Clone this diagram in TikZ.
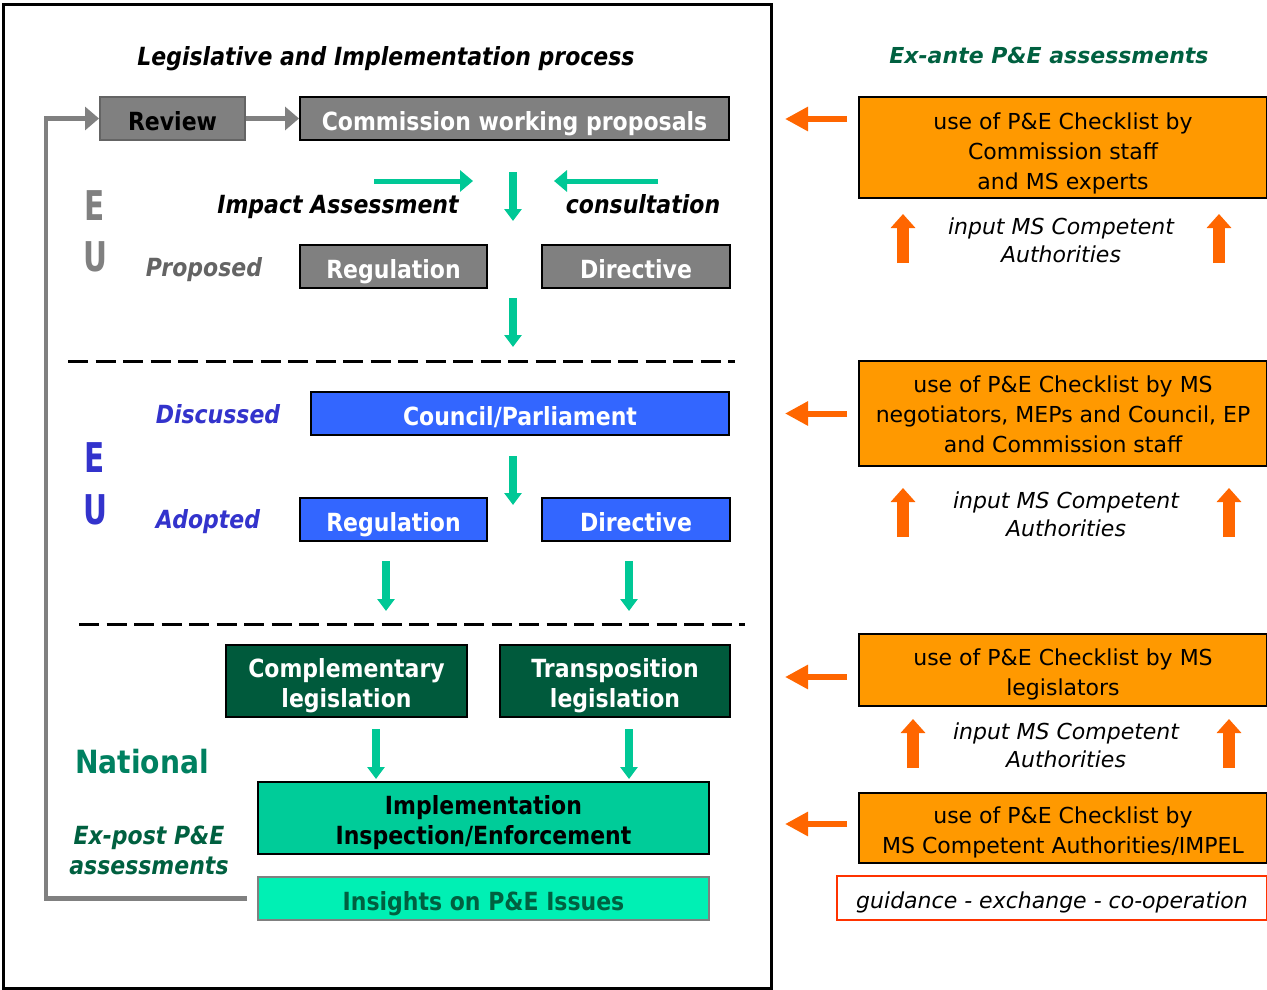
\documentclass[tikz,border=0pt]{standalone}
\usepackage{fontspec}
\setmainfont{DejaVu Sans}
\newfontfamily\lf[FakeStretch=0.88]{DejaVu Sans}
\newfontfamily\nf[FakeStretch=0.72]{DejaVu Sans}
\usetikzlibrary{arrows.meta}
\definecolor{gfill}{RGB}{128,128,128}
\definecolor{gdark}{RGB}{100,100,100}
\definecolor{tgreen}{RGB}{0,200,150}
\definecolor{bfill}{RGB}{51,102,255}
\definecolor{blab}{RGB}{51,51,204}
\definecolor{dgreen}{RGB}{0,90,60}
\definecolor{ngreen}{RGB}{0,128,96}
\definecolor{tgtext}{RGB}{0,96,64}
\definecolor{implfill}{RGB}{0,204,153}
\definecolor{insfill}{RGB}{0,240,180}
\definecolor{ofill}{RGB}{255,153,0}
\definecolor{oarr}{RGB}{255,102,0}
\definecolor{rborder}{RGB}{255,51,0}
\newcommand\ltop{\rule{0pt}{28pt}}
\newcommand\lbot{\rule[-5pt]{0pt}{0pt}}
\newcommand\rs[1]{\rule[-6pt]{0pt}{#1}}
\newcommand\estr{\rule{0pt}{18.3pt}}
\tikzset{
  boxbase/.style={draw=black, line width=2pt, inner sep=0pt, align=center, font=\lf\fontsize{25}{30}\selectfont\bfseries},
  box/.style={boxbase, text height=23pt, text depth=0pt},
  graybox/.style={box, fill=gfill, text=white},
  bluebox/.style={box, fill=bfill, text=white},
  dgbox/.style={boxbase, fill=dgreen, text=white},
  obox/.style={draw=black, line width=2pt, fill=ofill, inner sep=0pt, align=center, font=\fontsize{22}{30}\selectfont},
  lbl/.style={inner sep=0pt, align=center},
  lbla/.style={inner sep=0pt, text height=18.3pt, text depth=0pt, font=\lf\fontsize{25}{30}\selectfont\bfseries\itshape},
  eu/.style={inner sep=0pt, font=\nf\fontsize{41}{41}\selectfont\bfseries},
  garrow/.style={draw=tgreen, line width=8.5pt, -{Triangle[width=17pt,length=12pt]}},
  harrow/.style={draw=tgreen, line width=5pt, -{Triangle[width=21pt,length=13pt]}},
  oleft/.style={draw=oarr, line width=6pt, -{Triangle[width=23pt,length=23pt]}},
  oup/.style={draw=oarr, line width=12pt, -{Triangle[width=24pt,length=14pt]}},
  grayarr/.style={draw=gfill, line width=4.5pt, -{Triangle[width=23pt,length=14pt]}},
  dashline/.style={line width=3pt, dash pattern=on 20pt off 7.5pt},
}
\begin{document}
\begin{tikzpicture}[x=1pt,y=-1pt]
\useasboundingbox (0,0) rectangle (1267,990);
\fill[white] (0,0) rectangle (1267,990);
\draw[line width=3pt] (3,5) rectangle (771,988);

% titles
\node[lbla] (title) at (386,56) {Legislative and Implementation process};
\node[lbl, text=tgtext, text height=16pt, text depth=0pt, font=\fontsize{22}{26}\selectfont\bfseries\itshape] (exante) at (1049,56) {Ex-ante P\&E assessments};

% EU proposed
\node[box, fill=gfill, draw=gdark, minimum width=145pt, minimum height=43pt, text=black] (review) at (172.5,118.5) {Review};
\node[graybox, minimum width=429pt, minimum height=43pt] (cwp) at (514.5,118.5) {Commission working proposals};
\draw[grayarr] (review.east) -- (cwp.west);

\node[lbla] (ia) at (338,204) {Impact Assessment};
\node[lbla] (cons) at (643,204) {consultation};
\coordinate (iaS) at (374,181); \coordinate (iaE) at (473,181);
\coordinate (coS) at (658,181); \coordinate (coE) at (554,181);
\coordinate (d1S) at (513,172); \coordinate (d1E) at (513,221);
\draw[harrow] (iaS) -- (iaE);
\draw[harrow] (coS) -- (coE);
\draw[garrow] (d1S) -- (d1E);

\node[eu, text=gfill] (e1) at (95,206) {E};
\node[eu, text=gfill] (u1) at (95,257) {U};
\node[lbla, text=gdark] (prop) at (204,267) {Proposed};
\node[graybox, minimum width=187pt, minimum height=43pt] (reg1) at (393.5,266.5) {Regulation};
\node[graybox, minimum width=188pt, minimum height=43pt] (dir1) at (636,266.5) {Directive};
\coordinate (d2S) at (513,298); \coordinate (d2E) at (513,347);
\draw[garrow] (d2S) -- (d2E);

\coordinate (dl1a) at (68,361); \coordinate (dl1b) at (735,361);
\draw[dashline] (dl1a) -- (dl1b);

% EU discussed / adopted
\node[lbla, text=blab] (disc) at (218,414) {Discussed};
\node[bluebox, minimum width=418pt, minimum height=43pt] (council) at (520,413.5) {Council/Parliament};
\node[eu, text=blab] (e2) at (95,458) {E};
\node[eu, text=blab] (u2) at (95,510) {U};
\coordinate (d3S) at (513,456); \coordinate (d3E) at (513,505);
\draw[garrow] (d3S) -- (d3E);
\node[lbla, text=blab] (adop) at (208,519) {Adopted};
\node[bluebox, minimum width=187pt, minimum height=43pt] (reg2) at (393.5,519.5) {Regulation};
\node[bluebox, minimum width=188pt, minimum height=43pt] (dir2) at (636,519.5) {Directive};
\coordinate (d4S) at (386,561); \coordinate (d4E) at (386,611);
\coordinate (d5S) at (629,561); \coordinate (d5E) at (629,611);
\draw[garrow] (d4S) -- (d4E);
\draw[garrow] (d5S) -- (d5E);

\coordinate (dl2a) at (79,624); \coordinate (dl2b) at (745,624);
\draw[dashline] (dl2a) -- (dl2b);

% National
\node[dgbox, minimum width=241pt, minimum height=72pt] (comp) at (346.5,681) {\ltop Complementary\\legislation\lbot};
\node[dgbox, minimum width=230pt, minimum height=72pt] (trans) at (615,681) {\ltop Transposition\\legislation\lbot};
\node[lbl, text=ngreen, font=\lf\fontsize{32}{32}\selectfont\bfseries] (nat) at (142,762) {National};
\coordinate (d6S) at (376,729); \coordinate (d6E) at (376,779);
\coordinate (d7S) at (629,729); \coordinate (d7E) at (629,779);
\draw[garrow] (d6S) -- (d6E);
\draw[garrow] (d7S) -- (d7E);
\node[boxbase, fill=implfill, text=black, minimum width=451pt, minimum height=72pt] (impl) at (483.5,818) {\ltop Implementation\\Inspection/Enforcement\lbot};
\node[lbl, text=tgtext, font=\lf\fontsize{25}{30}\selectfont\bfseries\itshape] (expost) at (149,850) {\estr Ex-post P\&E\\assessments};
\node[box, fill=insfill, draw=gfill, text=tgtext, minimum width=451pt, minimum height=43pt] (ins) at (483.5,898.5) {Insights on P\&E Issues};
\draw[grayarr] ([xshift=-10pt]ins.west) -| ([xshift=-53pt]review.west) -- (review.west);

% right column
\node[obox, minimum width=408pt, minimum height=101pt] (o1) at (1063,147.5) {\rs{35pt}use of P\&E Checklist by\\Commission staff\\and MS experts\rs{1pt}};
\node[obox, minimum width=408pt, minimum height=105pt] (o2) at (1063,413.5) {\rs{29pt}use of P\&E Checklist by MS\\negotiators, MEPs and Council, EP\\and Commission staff\rs{1pt}};
\node[obox, minimum width=408pt, minimum height=72pt] (o3) at (1063,670) {\rs{33.5pt}use of P\&E Checklist by MS\\legislators\rs{1pt}};
\node[obox, minimum width=408pt, minimum height=70pt] (o4) at (1063,828) {\rs{33.5pt}use of P\&E Checklist by\\MS Competent Authorities/IMPEL\rs{1pt}};
\node[draw=rborder, line width=2.5pt, inner sep=0pt, minimum width=430pt, minimum height=44pt, text height=20pt, text depth=0pt, font=\fontsize{22}{26}\selectfont\itshape] (guid) at (1052,898) {guidance - exchange - co-operation};

\draw[oleft] ([xshift=-11pt]o1.west |- 0,119) -- ++(-62,0);
\draw[oleft] ([xshift=-11pt]o2.west) -- ++(-62,0);
\draw[oleft] ([xshift=-11pt]o3.west |- 0,677) -- ++(-62,0);
\draw[oleft] ([xshift=-11pt]o4.west |- 0,824) -- ++(-62,0);

\node[lbl, font=\fontsize{22}{28}\selectfont\itshape] (in1) at (1061,240) {input MS Competent\\Authorities};
\node[lbl, font=\fontsize{22}{28}\selectfont\itshape] (in2) at (1066,514) {input MS Competent\\Authorities};
\node[lbl, font=\fontsize{22}{28}\selectfont\itshape] (in3) at (1066,745) {input MS Competent\\Authorities};

\coordinate (u1a) at (903,263); \coordinate (u1b) at (903,214);
\coordinate (u2a) at (1219,263); \coordinate (u2b) at (1219,214);
\coordinate (u3a) at (903,537); \coordinate (u3b) at (903,488);
\coordinate (u4a) at (1229,537); \coordinate (u4b) at (1229,488);
\coordinate (u5a) at (913,768); \coordinate (u5b) at (913,719);
\coordinate (u6a) at (1229,768); \coordinate (u6b) at (1229,719);
\draw[oup] (u1a) -- (u1b);
\draw[oup] (u2a) -- (u2b);
\draw[oup] (u3a) -- (u3b);
\draw[oup] (u4a) -- (u4b);
\draw[oup] (u5a) -- (u5b);
\draw[oup] (u6a) -- (u6b);
\end{tikzpicture}
\end{document}
